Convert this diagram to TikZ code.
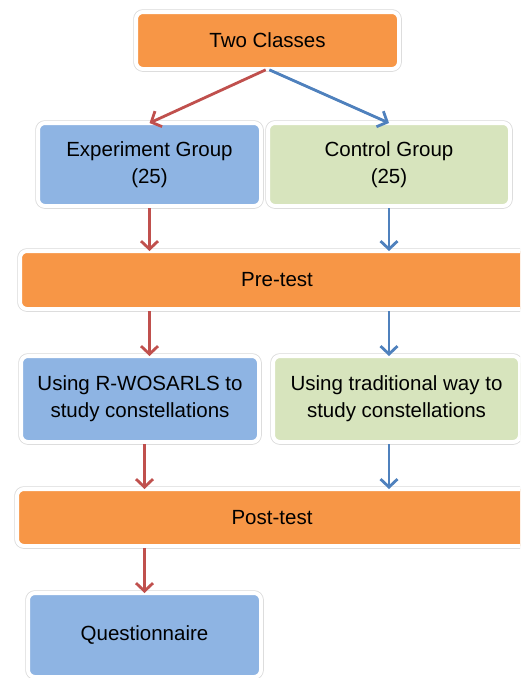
\documentclass[tikz,border=0pt]{standalone}
\usepackage{fontspec}
\setmainfont{Liberation Sans}
\usetikzlibrary{arrows.meta}

\definecolor{boxorange}{HTML}{F79646}
\definecolor{boxblue}{HTML}{8EB4E3}
\definecolor{boxgreen}{HTML}{D7E4BD}
\definecolor{arrowred}{HTML}{C0504D}
\definecolor{arrowblue}{HTML}{4F81BD}

\begin{document}
\begin{tikzpicture}[x=1pt, y=-1pt,
        box/.style={rounded corners=7pt, draw=white, line width=4pt,
            preaction={draw=black!15, line width=5.5pt},
            font=\fontsize{20.5}{27}\selectfont, align=center,
            inner sep=0pt, outer sep=0pt},
        redarrow/.style={draw=arrowred, line width=2.8pt, shorten <=2pt,
            -{Straight Barb[length=8pt, width=17pt, line width=2.8pt]}},
        bluearrow/.style={redarrow, draw=arrowblue}]
    \clip (0, 0) rectangle (520, 678);
    \fill[white] (0, 0) rectangle (520, 678);
    % boxes
    \node[box, fill=boxorange, minimum width=263, minimum height=57] (top) at (267.5, 40.5) {Two Classes};
    \node[box, fill=boxblue, minimum width=223, minimum height=83] (exp) at (149.5, 164.5) {Experiment Group\\(25)};
    \node[box, fill=boxgreen, minimum width=242, minimum height=83] (ctl) at (389, 164.5) {Control Group\\(25)};
    \node[box, fill=boxorange, minimum width=514, minimum height=58] (pre) at (277, 280) {Pre-test};
    \node[box, fill=boxblue, minimum width=238, minimum height=86] (useA) at (140, 399) {Using R-WOSARLS to\\study constellations};
    \node[box, fill=boxgreen, minimum width=247, minimum height=86] (useB) at (396.5, 399) {Using traditional way to\\study constellations};
    \node[box, fill=boxorange, minimum width=510, minimum height=57] (post) at (272, 517.5) {Post-test};
    \node[box, fill=boxblue, minimum width=233, minimum height=84] (quest) at (144.5, 635) {Questionnaire};
    % arrows
    \draw[redarrow] (top.south) -- (exp.north);
    \draw[bluearrow] (top.south) -- (ctl.north);
    \draw[redarrow] (exp.south) -- (exp.south |- pre.north);
    \draw[bluearrow] (ctl.south) -- (ctl.south |- pre.north);
    \draw[redarrow] (pre.south -| exp.south) -- (useA.north -| exp.south);
    \draw[bluearrow] (pre.south -| ctl.south) -- (useB.north -| ctl.south);
    \draw[redarrow] (useA.south -| quest.north) -- (post.north -| quest.north);
    \draw[bluearrow] (useB.south -| ctl.south) -- (post.north -| ctl.south);
    \draw[redarrow] (post.south -| quest.north) -- (quest.north);
\end{tikzpicture}
\end{document}
